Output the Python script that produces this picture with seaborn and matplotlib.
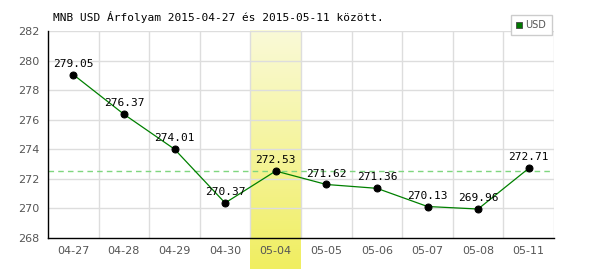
import matplotlib
matplotlib.use("Agg")
import matplotlib.pyplot as plt
import seaborn as sns
import numpy as np
import pandas as pd
from matplotlib.patches import Rectangle
import matplotlib.colors as mcolors

dates = ["04-27", "04-28", "04-29", "04-30", "05-04", "05-05", "05-06", "05-07", "05-08", "05-11"]
values = [279.05, 276.37, 274.01, 270.37, 272.53, 271.62, 271.36, 270.13, 269.96, 272.71]
highlight = "05-04"
title = "MNB USD Árfolyam 2015-04-27 és 2015-05-11 között."
series_name = "USD"

sns.set_style("white")
df = pd.DataFrame({"date": dates, "value": values})

fig = plt.figure(figsize=(6, 2.7), dpi=100)
ax = fig.add_axes([48/600, 1-238/270, (554-48)/600, (238-31)/270])

n = len(dates)
hi = dates.index(highlight)

# highlight gradient band
grad = np.linspace(0, 1, 256).reshape(-1, 1)
cmap = mcolors.LinearSegmentedColormap.from_list("hl", ["#f0ee60", "#fafad8"])
ax.imshow(grad, extent=(hi-0.5, hi+0.5, 268-14*0.15, 282), origin="lower", cmap=cmap,
          aspect="auto", zorder=0, clip_on=False)

# grid
for i in range(n):
    ax.axvline(i+0.5, color="#dddddd", lw=1, zorder=0.5)
for y in range(270, 283, 2):
    ax.axhline(y, color="#dddddd", lw=1, zorder=0.5)

ax.axhline(values[hi], color="#7fd67f", lw=1, ls=(0, (4, 3)), zorder=1)

sns.lineplot(data=df, x="date", y="value", ax=ax, color="#008000", lw=0.9,
             marker="o", markersize=5, markerfacecolor="black", markeredgecolor="black",
             sort=False, zorder=3, label=series_name, legend=False)

for i, v in enumerate(values):
    ax.text(i, v + 0.4, f"{v:.2f}", ha="center", va="bottom", fontsize=8,
            family="DejaVu Sans Mono", color="black", zorder=4)

ax.set_xlim(-0.5, n-0.5)
ax.set_ylim(268, 282)
ax.set_yticks(range(268, 283, 2))
ax.set_xticks(range(n))
ax.set_xticklabels(dates)
ax.set_xlabel("")
ax.set_ylabel("")
ax.tick_params(axis="both", labelsize=8, labelcolor="#555555", length=0, pad=6)
for s in ["top", "right"]:
    ax.spines[s].set_visible(False)
for s in ["left", "bottom"]:
    ax.spines[s].set_color("black")
    ax.spines[s].set_linewidth(1)

fig.text(53/600, 1-17/270, title, fontsize=8, family="DejaVu Sans Mono", va="center", ha="left",
         color="black")

# legend box
fig.patches.append(Rectangle((511/600, 1-35/270), 41/600, 20/270, transform=fig.transFigure,
                             facecolor="white", edgecolor="#cccccc", lw=1, zorder=5))
fig.patches.append(Rectangle((516/600, 1-28/270), 6/600, 6/270, transform=fig.transFigure,
                             facecolor="#007700", edgecolor="#444444", lw=0.6, zorder=6))
fig.text(525/600, 1-25/270, series_name, fontsize=7, color="#555555", va="center", ha="left", zorder=7)

fig.savefig("out.png", dpi=100)
